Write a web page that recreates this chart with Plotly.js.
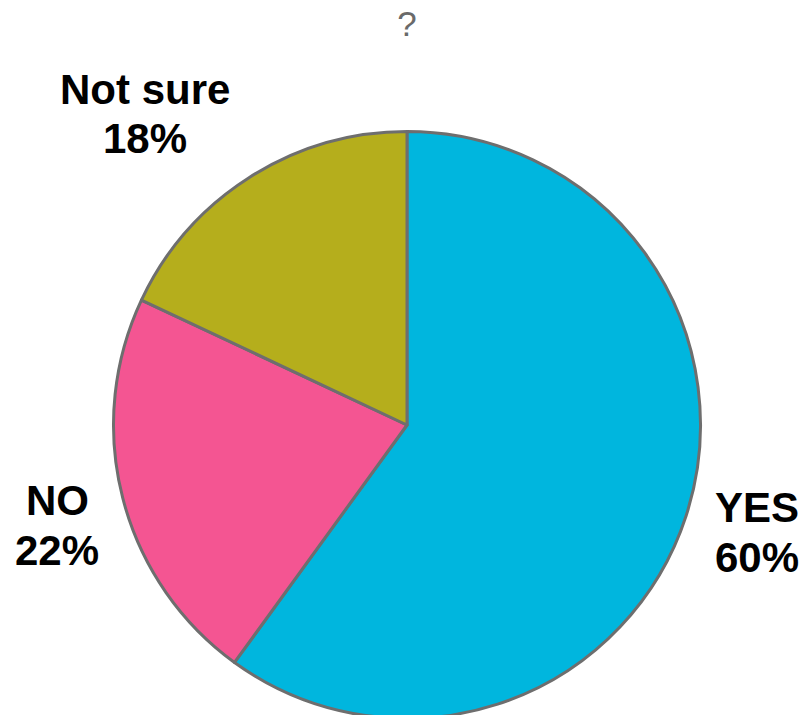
<!DOCTYPE html>
<html>
<head>
<meta charset="utf-8">
<script src="https://cdn.plot.ly/plotly-3.0.1.min.js"></script>
<style>html,body{margin:0;padding:0;background:#fff;overflow:hidden;}#chart{width:805px;height:720px;}</style>
</head>
<body>
<div id="chart"></div>
<script>
var categories = ["YES", "NO", "Not sure"];
var percentages = [60, 22, 18];
var sliceColors = ["#00B6DE", "#F45592", "#B5AE1C"];
var chartTitle = "?";

// label anchor positions (paper pixels): [x, y of name line, y of percent line]
var labelPos = [[757, 507, 557], [57, 500, 550], [145, 89, 138]];

var W = 805, H = 720;
var labelFont = {family: "Liberation Sans, Arial, sans-serif", size: 42, color: "#000"};
var annotations = [];
categories.forEach(function (c, i) {
  annotations.push({
    text: "<b>" + c + "</b>",
    xref: "paper", yref: "paper",
    x: labelPos[i][0] / W, y: 1 - labelPos[i][1] / H,
    xanchor: "center", yanchor: "middle", showarrow: false, font: labelFont
  });
  annotations.push({
    text: "<b>" + percentages[i] + "%</b>",
    xref: "paper", yref: "paper",
    x: labelPos[i][0] / W, y: 1 - labelPos[i][2] / H,
    xanchor: "center", yanchor: "middle", showarrow: false, font: labelFont
  });
});

var data = [{
  type: "pie",
  labels: categories,
  values: percentages,
  sort: false,
  direction: "clockwise",
  rotation: 0,
  textinfo: "none",
  hoverinfo: "label+percent",
  marker: {colors: sliceColors, line: {color: "#6E6E6E", width: 3}},
  domain: {x: [113.5 / W, 700.5 / W], y: [1.5 / H, 1 - 131.5 / H]},
  showlegend: false
}];

var layout = {
  width: W, height: H,
  margin: {l: 0, r: 0, t: 0, b: 0},
  paper_bgcolor: "#fff",
  title: {text: chartTitle, x: 407 / W, xanchor: "center", y: 1 - 24 / H, yanchor: "middle",
          font: {family: "Liberation Sans Narrow, Liberation Sans, sans-serif", size: 35, color: "#6a6a6a"}},
  annotations: annotations,
  showlegend: false
};

Plotly.newPlot("chart", data, layout, {displayModeBar: false, staticPlot: true});
</script>
</body>
</html>
